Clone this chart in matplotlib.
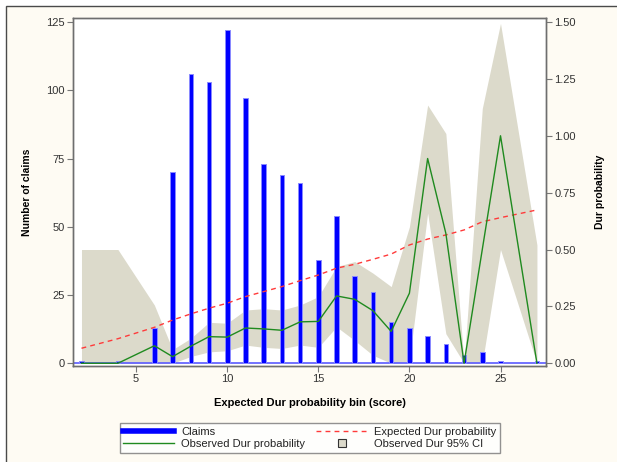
import numpy as np
import matplotlib
matplotlib.use("Agg")
import matplotlib.pyplot as plt
from matplotlib.lines import Line2D
from matplotlib.patches import Rectangle

plt.rcParams['font.family'] = ['Liberation Sans', 'DejaVu Sans']

# score bins and claim counts
bins = [2, 4, 6, 7, 8, 9, 10, 11, 12, 13, 14, 15, 16, 17, 18, 19, 20, 21, 22, 23, 24, 25, 27]
claims = [1, 1, 13, 70, 106, 103, 122, 97, 73, 69, 66, 38, 54, 32, 26, 15, 13, 10, 7, 3, 4, 1, 1]

# probabilities (right axis)
expected = [0.066, 0.108, 0.158, 0.19, 0.217, 0.242, 0.264, 0.293, 0.315, 0.337, 0.363, 0.388,
            0.418, 0.435, 0.457, 0.48, 0.52, 0.546, 0.564, 0.586, 0.622, 0.64, 0.674]
observed = [0.0, 0.0, 0.077, 0.029, 0.075, 0.117, 0.115, 0.155, 0.151, 0.145, 0.182, 0.184,
            0.296, 0.281, 0.231, 0.14, 0.308, 0.90, 0.571, 0.0, 0.50, 1.0, 0.0]
ci_low = [0.0, 0.0, 0.0, 0.0, 0.03, 0.05, 0.055, 0.08, 0.07, 0.065, 0.08, 0.07,
          0.16, 0.10, 0.035, 0.0, 0.01, 0.66, 0.13, 0.0, 0.0, 0.50, 0.0]
ci_high = [0.50, 0.50, 0.256, 0.06, 0.11, 0.18, 0.176, 0.234, 0.24, 0.234, 0.256, 0.293,
           0.425, 0.447, 0.396, 0.337, 0.60, 1.135, 1.01, 0.0, 1.12, 1.494, 0.52]

left_ticks = [0, 25, 50, 75, 100, 125]
right_ticks = [0.0, 0.25, 0.5, 0.75, 1.0, 1.25, 1.5]
x_ticks = [5, 10, 15, 20, 25]

band_col = '#dcdacb'
tick_col = '#333333'
frame_col = '#6e6e6e'

fig = plt.figure(figsize=(6.17, 4.62), dpi=100, facecolor='white')
# cream panel with dark border (cropped on right/bottom)
panel = Rectangle((6 / 617, -0.1), 1.2, 1 - 6 / 462 + 0.1, transform=fig.transFigure,
                  facecolor='#fefbf3', edgecolor='#4a4a4a', lw=1.0, zorder=-10)
fig.patches.append(panel)

ax = fig.add_axes([0.1188, 0.2078, 0.7662, 0.7539])
ax2 = ax.twinx()
ax.set_facecolor('white')

ax.set_xlim(1.55, 27.5)
ax.set_ylim(-1.0, 126.6)
ax2.set_ylim(-0.012, 1.519)

# CI band drawn behind the bars but in probability units
ax.fill_between(bins, ci_low, ci_high, transform=ax2.transData, color=band_col,
                lw=0, zorder=1)
ax.axhline(0, color='#5a5aff', lw=1.2, zorder=2)
ax.bar(bins, claims, width=0.25, color='#0000ff', edgecolor='#8a8aff', lw=0.7, zorder=3)

ax2.plot(bins, expected, color='#ff3a3a', lw=1.0, dashes=(3.5, 3))
ax2.plot(bins, observed, color='#1f8a1f', lw=1.0)

for a in (ax, ax2):
    for s in a.spines.values():
        s.set_color(frame_col)
        s.set_linewidth(1.0)
    a.tick_params(colors=tick_col, labelsize=8, length=4, width=0.8, pad=2)
    a.tick_params(axis='both', color='#777777')

ax.set_xticks(x_ticks)
ax.set_yticks(left_ticks)
ax2.set_yticks(right_ticks)
ax2.set_yticklabels(['%.2f' % t for t in right_ticks])

ax.set_xlabel('Expected Dur probability bin (score)', fontsize=8, fontweight='bold', labelpad=10)
ax.set_ylabel('Number of claims', fontsize=7.5, fontweight='bold', labelpad=10)
ax2.set_ylabel('Dur probability', fontsize=7.5, fontweight='bold', labelpad=14)

handles = [
    Line2D([], [], color='#0000ff', lw=4),
    Line2D([], [], color='#1f8a1f', lw=1.0),
    Line2D([], [], color='#ff3a3a', lw=1.0, dashes=(3.5, 3)),
    Line2D([], [], ls='none', marker='s', markersize=6, markerfacecolor=band_col,
           markeredgecolor='#333333', markeredgewidth=0.8),
]
labels = ['Claims', 'Observed Dur probability', 'Expected Dur probability', 'Observed Dur 95% CI']
leg = fig.legend(handles, labels, ncol=2, loc='center', bbox_to_anchor=(0.502, 0.052),
                 fontsize=8, frameon=True, fancybox=False, handlelength=4.6,
                 columnspacing=1.0, handletextpad=0.6, labelspacing=0.25,
                 borderpad=0.3, edgecolor='#777777')
leg.get_frame().set_linewidth(1.0)
for t in leg.get_texts():
    t.set_color('#222222')

fig.savefig('out.png', dpi=100, facecolor=fig.get_facecolor())
